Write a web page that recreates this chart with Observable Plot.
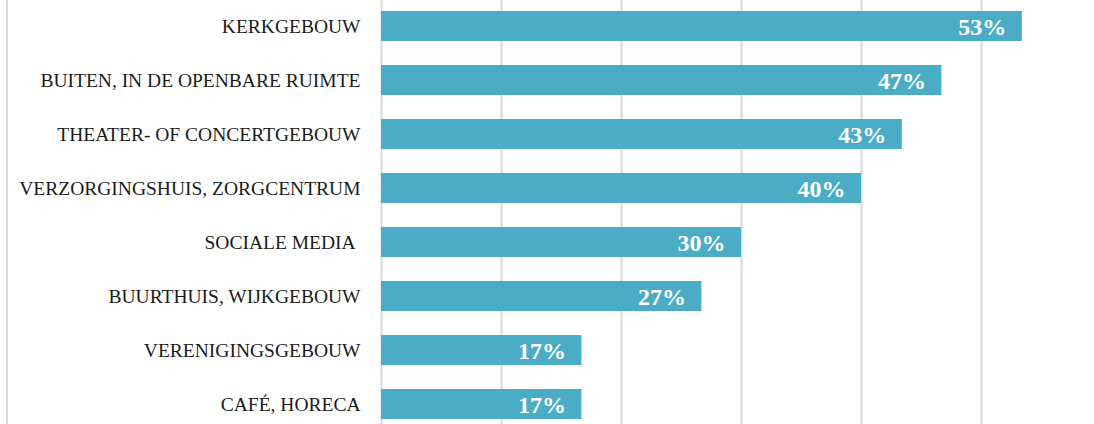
<!DOCTYPE html>
<html>
<head>
<meta charset="utf-8">
<script src="https://cdn.jsdelivr.net/npm/d3@7"></script>
<script src="https://cdn.jsdelivr.net/npm/@observablehq/plot@0.6"></script>
<style>
  html, body { margin: 0; padding: 0; background: #fff; }
  #wrap { position: relative; width: 1094px; height: 424px; overflow: hidden; }
  #frame { position: absolute; left: 6px; top: 0; width: 2px; height: 424px; background: #d9d9d9; }
  svg { display: block; }
</style>
</head>
<body>
<div id="wrap"><div id="frame"></div><div id="chart"></div></div>
<script>
const categories = [
  "KERKGEBOUW",
  "BUITEN, IN DE OPENBARE RUIMTE",
  "THEATER- OF CONCERTGEBOUW",
  "VERZORGINGSHUIS, ZORGCENTRUM",
  "SOCIALE MEDIA\u00a0",
  "BUURTHUIS, WIJKGEBOUW",
  "VERENIGINGSGEBOUW",
  "CAFÉ, HORECA"
];
const values = [53.4, 46.7, 43.4, 40.0, 30.0, 26.7, 16.7, 16.7];
const valueLabels = ["53%", "47%", "43%", "40%", "30%", "27%", "17%", "17%"];
const gridTicks = [0, 10, 20, 30, 40, 50, 60];

const data = categories.map((c, i) => ({cat: c, value: values[i], label: valueLabels[i]}));

const chart = Plot.plot({
  width: 1094,
  height: 424,
  marginLeft: 381,
  marginRight: 0,
  marginTop: 0,
  marginBottom: 0,
  style: {background: "transparent", overflow: "visible"},
  x: {domain: [0, 60], range: [381, 1101], axis: null},
  y: {domain: categories, range: [-1, 431], paddingInner: 0.444, paddingOuter: 0.222, axis: null},
  marks: [
    Plot.ruleX(gridTicks, {x: d => d, stroke: "#d9d9d9", strokeWidth: 2}),
    Plot.barX(data, {x: "value", y: "cat", fill: "#4bacc6"}),
    Plot.text(data, {
      x: "value", y: "cat", text: "label", textAnchor: "end", dx: -16, dy: 1,
      fill: "white", fontWeight: "bold", fontSize: 24, fontFamily: "Liberation Serif"
    }),
    Plot.text(data, {
      x: 0, y: "cat", text: "cat", textAnchor: "end", dx: -21, dy: 0,
      fill: "#1a1a1a", fontSize: 19.5, fontFamily: "Liberation Serif"
    })
  ]
});
document.getElementById("chart").appendChild(chart);
</script>
</body>
</html>
